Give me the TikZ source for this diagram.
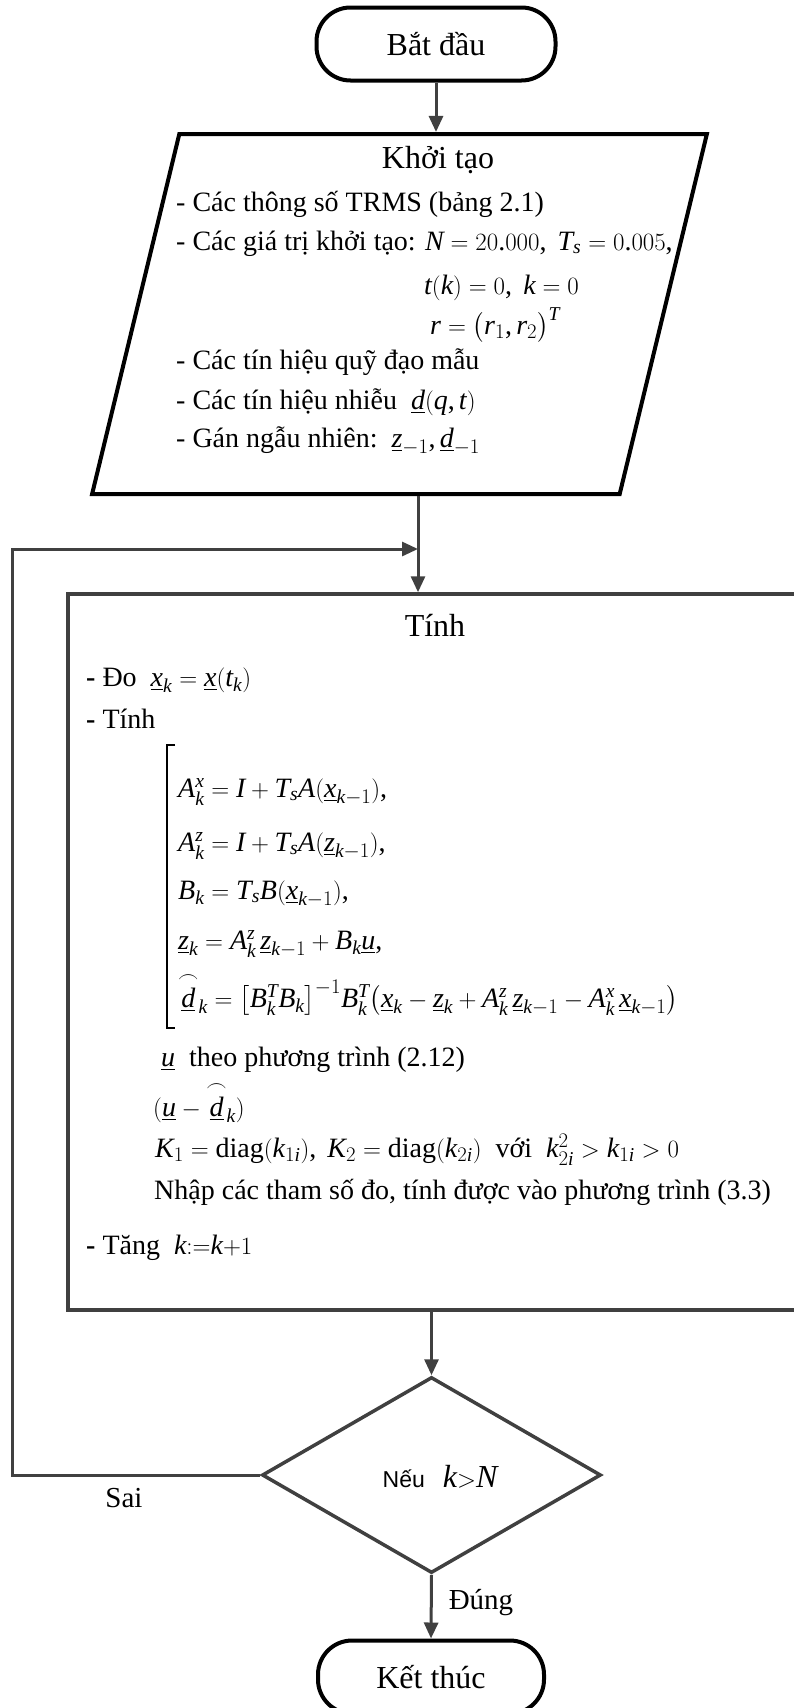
\documentclass[tikz,border=0pt]{standalone}
\usepackage{amsmath}
\usepackage{fontspec}
\setmainfont{Liberation Serif}
\newfontfamily\labelsans{Liberation Sans}
\newfontfamily\tnrfam{Liberation Serif}[NFSSFamily=tnr]
\DeclareSymbolFont{tnrit}{TU}{tnr}{m}{it}
\DeclareSymbolFont{tnrup}{TU}{tnr}{m}{n}
\makeatletter
% Times-like letters and digits in math
\count@=`a
\loop\ifnum\count@<123 \Umathcode\count@="0 \symtnrit\count@ \advance\count@\@ne\repeat
\count@=`A
\loop\ifnum\count@<91 \Umathcode\count@="0 \symtnrit\count@ \advance\count@\@ne\repeat
\count@=`0
\loop\ifnum\count@<58 \Umathcode\count@="0 \symtnrup\count@ \advance\count@\@ne\repeat
\Umathcode`(="4 \symtnrup`(
\Umathcode`)="5 \symtnrup`)
\Umathcode`,="6 \symtnrup`,
\Umathcode`.="0 \symtnrup`.
\makeatother
\usepackage{tikz}
\usetikzlibrary{arrows.meta}
\usetikzlibrary{positioning,shapes.geometric,calc}
\definecolor{linegray}{RGB}{64,64,64}
\newcommand{\arcd}{\overset{\frown}{\underline{d}}}

\begin{document}
\begin{tikzpicture}[x=1pt,y=-1pt,
    terminal/.style={draw=black,line width=4pt,rounded corners=34pt,
      minimum height=73pt,inner sep=0pt,font=\fontsize{32}{38}\selectfont},
    iobox/.style={trapezium,draw=black,line width=4pt,trapezium stretches=true,
      trapezium left angle=78.8,trapezium right angle=101.2,
      minimum width=615pt,minimum height=360pt},
    procbox/.style={draw=linegray,line width=3.5pt,minimum width=742pt,minimum height=716pt},
    decision/.style={diamond,draw=linegray,line width=3.5pt,inner sep=0pt,
      minimum width=339pt,minimum height=196pt},
    flow/.style={draw=linegray,line width=3pt,-{Triangle[length=16pt,width=14pt]}},
    title/.style={inner sep=0pt,font=\fontsize{32}{38}\selectfont},
    body/.style={anchor=base west,inner sep=0pt,font=\fontsize{28}{32}\selectfont},
    branch/.style={inner sep=0pt,font=\fontsize{29}{34}\selectfont}]
  \useasboundingbox (0,0) rectangle (794,1708);

  % blocks of the chart
  \node[terminal,minimum width=239pt] (start) at (436,44) {Bắt đầu};
  \node[iobox] (init) at (399.5,314) {};
  \node[procbox] (calc) at (439,952) {};
  \node[decision] (cond) at (431.5,1475) {};
  \node[terminal,minimum width=226pt] (stop) at (431,1677) {Kết thúc};

  % initial values
  \node[title] (inittitle) at (438,160) {Khởi tạo};
  \node[body] (init1) at (176,211) {- Các thông số TRMS (bảng 2.1)};
  \node[body] (init2) at (176,250) {- Các giá trị khởi tạo: $N = 20.000,\ T_s = 0.005,$};
  \node[body] (init3) at (424,294) {$t(k) = 0,\ k = 0$};
  \node[body] (init4) at (430,334) {$r = \bigl(r_1, r_2\bigr)^T$};
  \node[body] (init5) at (176,369) {- Các tín hiệu quỹ đạo mẫu};
  \node[body] (init6) at (176,409) {- Các tín hiệu nhiễu\ \ $\underline{d}(q,t)$};
  \node[body] (init7) at (176,447) {- Gán ngẫu nhiên:\ \ $\underline{z}_{-1},\underline{d}_{-1}$};

  % computation step
  \node[title] (calctitle) at (435,625) {Tính};
  \node[body] (calc1) at (86,686) {\textbf{-} Đo\ \ $\underline{x}_k = \underline{x}(t_k)$};
  \node[body] (calc2) at (86,728) {\textbf{-} Tính};
  \draw[line width=1.2pt] (175,745) -- (167,745) -- (167,1028) -- (175,1028);
  \node[body] (eq1) at (178,797) {$A_k^x = I + T_s A(\underline{x}_{k-1}),$};
  \node[body] (eq2) at (178,851) {$A_k^z = I + T_s A(\underline{z}_{k-1}),$};
  \node[body] (eq3) at (178,899) {$B_k = T_s B(\underline{x}_{k-1}),$};
  \node[body] (eq4) at (178,949) {$\underline{z}_k = A_k^z\,\underline{z}_{k-1} + B_k\underline{u},$};
  \node[body] (eq5) at (178,1007) {$\arcd_k = \bigl[B_k^T B_k\bigr]^{-1} B_k^T
    \bigl(\underline{x}_k - \underline{z}_k + A_k^z\,\underline{z}_{k-1} - A_k^x\,\underline{x}_{k-1}\bigr)$};
  \node[body] (calc3) at (161,1066) {$\underline{u}$\ \ theo phương trình (2.12)};
  \node[body] (calc4) at (153,1116) {$(\underline{u} - \arcd_k)$};
  \node[body] (calc5) at (155,1157) {$K_1 = \text{diag}(k_{1i}),\ K_2 = \text{diag}(k_{2i})$\ \ với\ \ $k_{2i}^2 > k_{1i} > 0$};
  \node[body] (calc6) at (154,1199) {Nhập các tham số đo, tính được vào phương trình (3.3)};
  \node[body] (calc7) at (86,1254) {\textbf{-} Tăng\ \ $k{:=}k{+}1$};

  % test
  \node[inner sep=0pt] (condtext) at (440,1477)
    {{\labelsans\fontsize{23}{28}\selectfont Nếu}\hspace{18pt}{\fontsize{32}{38}\selectfont$k{>}N$}};
  \node[branch] (nolabel) at (124,1498) {Sai};
  \node[branch] (yeslabel) at (481,1603) {Đúng};

  % connectors
  \coordinate (join) at (418,549);
  \draw[flow] (start.south) -- (start.south |- init.north);
  \draw[flow] (init.south -| join) -- (calc.north -| join);
  \draw[flow] (cond.west) -- ++(-248,0) |- (join);
  \draw[flow] (calc.south -| cond.north) -- (cond.north);
  \draw[flow] (cond.south) -- (stop.north);
\end{tikzpicture}
\end{document}
